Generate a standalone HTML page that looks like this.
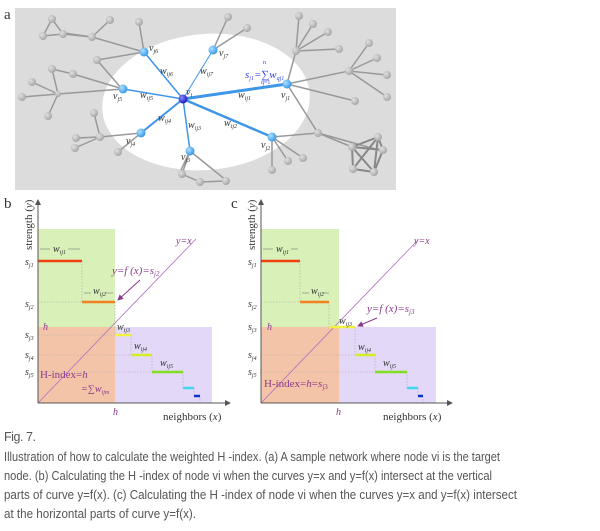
<!DOCTYPE html>
<html><head><meta charset="utf-8"><style>
html,body{margin:0;padding:0;background:#fff;width:600px;height:531px;overflow:hidden}
svg{display:block}
.cap{font-family:"Liberation Sans",sans-serif;font-size:12.5px;fill:#555}
.s{font-family:"Liberation Serif",serif;fill:#333}
.p{font-family:"Liberation Serif",serif;fill:#8a3a8a;font-style:italic}
</style></head><body>
<svg width="600" height="531" viewBox="0 0 600 531">
<defs>
<radialGradient id="gb" cx="35%" cy="35%" r="65%"><stop offset="0" stop-color="#aee0ff"/><stop offset="1" stop-color="#3a9be8"/></radialGradient>
<radialGradient id="gg" cx="35%" cy="35%" r="65%"><stop offset="0" stop-color="#e0e0e0"/><stop offset="1" stop-color="#a8a8a8"/></radialGradient>
<radialGradient id="gd" cx="35%" cy="35%" r="65%"><stop offset="0" stop-color="#8888ff"/><stop offset="1" stop-color="#2020c0"/></radialGradient>
<marker id="ar" markerWidth="6" markerHeight="6" refX="5" refY="3" orient="auto"><path d="M0,0L6,3L0,6z" fill="#555"/></marker>
<marker id="ap" markerWidth="6" markerHeight="6" refX="5" refY="3" orient="auto"><path d="M0,0L6,3L0,6z" fill="#8a3a8a"/></marker>
</defs>
<!-- panel a -->
<text x="4" y="19" class="s" font-size="15">a</text>
<rect x="15" y="8" width="381" height="182" fill="#dcdcdc"/>
<ellipse cx="206" cy="102" rx="104" ry="68" fill="#fff" transform="rotate(-5 206 102)"/>
<g stroke="#999" stroke-width="1.5" fill="none">
<path d="M144,52L92,37L64,33M92,37L110,20M92,37L63,34L43,36L52,19L63,34M144,52L139,22M144,52L97,60L122,89M123,89L58,94L22,97M58,94L52,69L73,74L123,89M58,94L48,116M58,94L32,82M141,133L100,137L76,138M100,137L75,148M100,137L94,113M141,133L118,152"/>
<path d="M190,151L182,174L200,182L226,181M190,151L227,181M190,151L181,170"/>
<path d="M213,50L228,17M213,50L247,28M287,84L296,51L299,16M296,51L313,24M296,51L328,32M296,51L339,49M287,84L349,71L369,43M349,71L377,58M349,71L387,75M349,71L387,97M287,84L355,101M287,84L318,133L352,147M318,133L375,149M272,137L272,170M272,137L288,161M272,137L303,158M272,137L318,133"/>
<path d="M352,147L378,137L383,150L374,172L353,169L352,147L383,150M378,137L374,172M352,147L374,172M378,137L353,169" stroke-width="2" stroke="#888"/>
</g>
<g fill="url(#gg)">
<circle cx="139" cy="22" r="4"/><circle cx="110" cy="20" r="4"/><circle cx="52" cy="19" r="4"/><circle cx="43" cy="36" r="4"/><circle cx="63" cy="34" r="4"/><circle cx="92" cy="37" r="4"/><circle cx="97" cy="60" r="4"/><circle cx="52" cy="69" r="4"/><circle cx="73" cy="74" r="4"/><circle cx="32" cy="82" r="4"/><circle cx="22" cy="97" r="4"/><circle cx="58" cy="94" r="3"/><circle cx="48" cy="116" r="4"/><circle cx="94" cy="113" r="4"/><circle cx="76" cy="138" r="4"/><circle cx="75" cy="148" r="4"/><circle cx="100" cy="137" r="4"/><circle cx="118" cy="152" r="4"/>
<circle cx="182" cy="174" r="4"/><circle cx="200" cy="182" r="4"/><circle cx="226" cy="181" r="4"/>
<circle cx="228" cy="17" r="4"/><circle cx="247" cy="28" r="4"/><circle cx="299" cy="16" r="4"/><circle cx="313" cy="24" r="4"/><circle cx="328" cy="32" r="4"/><circle cx="339" cy="49" r="4"/><circle cx="296" cy="51" r="4"/><circle cx="369" cy="43" r="4"/><circle cx="377" cy="58" r="4"/><circle cx="387" cy="75" r="4"/><circle cx="387" cy="97" r="4"/><circle cx="349" cy="71" r="4"/><circle cx="355" cy="101" r="4"/><circle cx="318" cy="133" r="4"/><circle cx="272" cy="170" r="4"/><circle cx="288" cy="161" r="4"/><circle cx="303" cy="158" r="4"/>
<circle cx="352" cy="147" r="4"/><circle cx="378" cy="137" r="4"/><circle cx="383" cy="150" r="4"/><circle cx="374" cy="172" r="4"/><circle cx="353" cy="169" r="4"/>
</g>
<g stroke="#3f95e8" fill="none">
<line x1="183" y1="99" x2="287" y2="84" stroke-width="3"/>
<line x1="183" y1="99" x2="272" y2="137" stroke-width="2.5"/>
<line x1="183" y1="99" x2="190" y2="151" stroke-width="1.5"/>
<line x1="183" y1="99" x2="141" y2="133" stroke-width="2"/>
<line x1="183" y1="99" x2="123" y2="89" stroke-width="1.5"/>
<line x1="183" y1="99" x2="144" y2="52" stroke-width="1.5"/>
<line x1="183" y1="99" x2="213" y2="50" stroke-width="1"/>
</g>
<g fill="url(#gb)">
<circle cx="287" cy="84" r="4.5"/><circle cx="272" cy="137" r="4.5"/><circle cx="190" cy="151" r="4.5"/><circle cx="141" cy="133" r="4.5"/><circle cx="123" cy="89" r="4.5"/><circle cx="144" cy="52" r="4.5"/><circle cx="213" cy="50" r="4.5"/>
</g>
<circle cx="183" cy="99" r="4.5" fill="url(#gd)"/>
<g class="s" font-size="10" font-style="italic">
<text x="186" y="95">v<tspan font-size="6" dy="2">i</tspan></text>
<text x="149" y="51">v<tspan font-size="6" dy="2">j6</tspan></text>
<text x="219" y="56">v<tspan font-size="6" dy="2">j7</tspan></text>
<text x="113" y="99">v<tspan font-size="6" dy="2">j5</tspan></text>
<text x="126" y="144">v<tspan font-size="6" dy="2">j4</tspan></text>
<text x="181" y="160">v<tspan font-size="6" dy="2">j3</tspan></text>
<text x="261" y="148">v<tspan font-size="6" dy="2">j2</tspan></text>
<text x="281" y="98">v<tspan font-size="6" dy="2">j1</tspan></text>
<text x="160" y="74">w<tspan font-size="6" dy="2">ij6</tspan></text>
<text x="200" y="74">w<tspan font-size="6" dy="2">ij7</tspan></text>
<text x="140" y="98">w<tspan font-size="6" dy="2">ij5</tspan></text>
<text x="158" y="121">w<tspan font-size="6" dy="2">ij4</tspan></text>
<text x="188" y="128">w<tspan font-size="6" dy="2">ij3</tspan></text>
<text x="224" y="126">w<tspan font-size="6" dy="2">ij2</tspan></text>
<text x="238" y="98">w<tspan font-size="6" dy="2">ij1</tspan></text>
</g>
<text x="245" y="78" font-family="Liberation Serif,serif" font-style="italic" font-size="11" fill="#3344ee">s<tspan font-size="6" dy="2">j1</tspan><tspan dy="-2">=∑w</tspan><tspan font-size="6" dy="2">qj1</tspan></text>
<text x="261" y="84" font-family="Liberation Serif,serif" font-size="6" fill="#3344ee">q=1</text>
<text x="263" y="64" font-family="Liberation Serif,serif" font-size="6" fill="#3344ee">n</text>

<!-- panel b -->
<text x="4" y="208" class="s" font-size="15">b</text>
<rect x="38" y="229" width="77" height="98" fill="#d9f0b8"/>
<rect x="38" y="327" width="77" height="76" fill="#f4c4a8"/>
<rect x="115" y="327" width="97" height="76" fill="#e4d8f8"/>
<g stroke="#aaa" stroke-width="0.6" stroke-dasharray="1.5,1.5">
<line x1="38" y1="302" x2="82" y2="302"/><line x1="38" y1="335" x2="115" y2="335"/><line x1="38" y1="355" x2="131" y2="355"/><line x1="38" y1="372" x2="152" y2="372"/>
<line x1="82" y1="261" x2="82" y2="302"/><line x1="115" y1="302" x2="115" y2="335"/><line x1="131" y1="335" x2="131" y2="355"/><line x1="152" y1="355" x2="152" y2="372"/><line x1="183" y1="372" x2="183" y2="388"/><line x1="194" y1="388" x2="194" y2="396"/><line x1="200" y1="396" x2="200" y2="403"/>
</g>
<line x1="38" y1="403" x2="196" y2="239" stroke="#b070c0" stroke-width="0.8"/>
<g stroke-width="2.5">
<line x1="38" y1="261" x2="82" y2="261" stroke="#f04010"/>
<line x1="82" y1="302" x2="115" y2="302" stroke="#f08020"/>
<line x1="115" y1="335" x2="131" y2="335" stroke="#f0f040"/>
<line x1="131" y1="355" x2="152" y2="355" stroke="#d0ee20"/>
<line x1="152" y1="372" x2="183" y2="372" stroke="#80e020"/>
<line x1="183" y1="388" x2="194" y2="388" stroke="#40d8f0"/>
<line x1="194" y1="396" x2="200" y2="396" stroke="#1030d0"/>
</g>
<line x1="38" y1="403" x2="38" y2="200" stroke="#555" marker-end="url(#ar)"/>
<line x1="38" y1="403" x2="230" y2="403" stroke="#555" marker-end="url(#ar)"/>
<text transform="translate(32,250) rotate(-90)" class="s" font-size="11">strength (<tspan font-style="italic">y</tspan>)</text>
<text x="163" y="420" class="s" font-size="11">neighbors (<tspan font-style="italic">x</tspan>)</text>
<g class="s" font-size="10" font-style="italic">
<text x="25" y="265">s<tspan font-size="6" dy="2">j1</tspan></text>
<text x="25" y="307">s<tspan font-size="6" dy="2">j2</tspan></text>
<text x="25" y="338">s<tspan font-size="6" dy="2">j3</tspan></text>
<text x="25" y="358">s<tspan font-size="6" dy="2">j4</tspan></text>
<text x="25" y="375">s<tspan font-size="6" dy="2">j5</tspan></text>
<text x="53" y="252">w<tspan font-size="6" dy="2">ij1</tspan></text>
<text x="93" y="294">w<tspan font-size="6" dy="2">ij2</tspan></text>
<text x="117" y="330">w<tspan font-size="6" dy="2">ij3</tspan></text>
<text x="134" y="349">w<tspan font-size="6" dy="2">ij4</tspan></text>
<text x="160" y="366">w<tspan font-size="6" dy="2">ij5</tspan></text>
</g>
<g stroke="#777" stroke-width="0.6" fill="none">
<line x1="40" y1="249" x2="50" y2="249"/><line x1="68" y1="249" x2="80" y2="249"/>
<line x1="84" y1="293" x2="91" y2="293"/><line x1="105" y1="293" x2="113" y2="293"/>
</g>
<text x="176" y="244" class="p" font-size="10">y=x</text>
<text x="112" y="274" class="p" font-size="11">y=f (x)=s<tspan font-size="7" dy="2">j2</tspan></text>
<line x1="140" y1="280" x2="118" y2="300" stroke="#8a3a8a" marker-end="url(#ap)"/>
<text x="43" y="330" class="p" font-size="10">h</text>
<text x="113" y="415" class="p" font-size="10">h</text>
<text x="40" y="378" font-family="Liberation Serif,serif" fill="#8a3a8a" font-size="11">H-index=<tspan font-style="italic">h</tspan></text>
<text x="81" y="392" class="p" font-size="10">=∑w<tspan font-size="6" dy="2">ijm</tspan></text>

<!-- panel c -->
<text x="231" y="208" class="s" font-size="15">c</text>
<rect x="261" y="229" width="78" height="98" fill="#d9f0b8"/>
<rect x="261" y="327" width="78" height="76" fill="#f4c4a8"/>
<rect x="339" y="327" width="97" height="76" fill="#e4d8f8"/>
<g stroke="#aaa" stroke-width="0.6" stroke-dasharray="1.5,1.5">
<line x1="261" y1="302" x2="300" y2="302"/><line x1="261" y1="355" x2="355" y2="355"/><line x1="261" y1="372" x2="375" y2="372"/>
<line x1="300" y1="261" x2="300" y2="302"/><line x1="329" y1="302" x2="329" y2="327"/><line x1="355" y1="327" x2="355" y2="355"/><line x1="375" y1="355" x2="375" y2="372"/><line x1="407" y1="372" x2="407" y2="388"/><line x1="418" y1="388" x2="418" y2="396"/><line x1="423" y1="396" x2="423" y2="403"/>
</g>
<line x1="261" y1="403" x2="418" y2="240" stroke="#b070c0" stroke-width="0.8"/>
<g stroke-width="2.5">
<line x1="261" y1="261" x2="300" y2="261" stroke="#f04010"/>
<line x1="300" y1="302" x2="329" y2="302" stroke="#f08020"/>
<line x1="329" y1="327" x2="355" y2="327" stroke="#f0f040"/>
<line x1="355" y1="355" x2="375" y2="355" stroke="#d0ee20"/>
<line x1="375" y1="372" x2="407" y2="372" stroke="#80e020"/>
<line x1="407" y1="388" x2="418" y2="388" stroke="#40d8f0"/>
<line x1="418" y1="396" x2="423" y2="396" stroke="#1030d0"/>
</g>
<line x1="261" y1="403" x2="261" y2="200" stroke="#555" marker-end="url(#ar)"/>
<line x1="261" y1="403" x2="452" y2="403" stroke="#555" marker-end="url(#ar)"/>
<text transform="translate(255,250) rotate(-90)" class="s" font-size="11">strength (<tspan font-style="italic">y</tspan>)</text>
<text x="383" y="420" class="s" font-size="11">neighbors (<tspan font-style="italic">x</tspan>)</text>
<g class="s" font-size="10" font-style="italic">
<text x="248" y="265">s<tspan font-size="6" dy="2">j1</tspan></text>
<text x="248" y="307">s<tspan font-size="6" dy="2">j2</tspan></text>
<text x="248" y="330">s<tspan font-size="6" dy="2">j3</tspan></text>
<text x="248" y="358">s<tspan font-size="6" dy="2">j4</tspan></text>
<text x="248" y="375">s<tspan font-size="6" dy="2">j5</tspan></text>
<text x="276" y="252">w<tspan font-size="6" dy="2">ij1</tspan></text>
<text x="311" y="294">w<tspan font-size="6" dy="2">ij2</tspan></text>
<text x="339" y="324">w<tspan font-size="6" dy="2">ij3</tspan></text>
<text x="358" y="350">w<tspan font-size="6" dy="2">ij4</tspan></text>
<text x="383" y="366">w<tspan font-size="6" dy="2">ij5</tspan></text>
</g>
<g stroke="#777" stroke-width="0.6" fill="none">
<line x1="263" y1="249" x2="273" y2="249"/><line x1="291" y1="249" x2="298" y2="249"/>
<line x1="302" y1="293" x2="309" y2="293"/><line x1="322" y1="293" x2="329" y2="293"/>
</g>
<text x="414" y="244" class="p" font-size="10">y=x</text>
<text x="367" y="312" class="p" font-size="11">y=f (x)=s<tspan font-size="7" dy="2">j3</tspan></text>
<line x1="377" y1="318" x2="358" y2="326" stroke="#8a3a8a" marker-end="url(#ap)"/>
<text x="267" y="330" class="p" font-size="10">h</text>
<text x="336" y="415" class="p" font-size="10">h</text>
<text x="264" y="387" font-family="Liberation Serif,serif" fill="#8a3a8a" font-size="11">H-index=<tspan font-style="italic">h</tspan>=<tspan font-style="italic">s</tspan><tspan font-size="7" dy="2">j3</tspan></text>

<!-- caption -->
<text x="4" y="441" class="cap" textLength="32">Fig. 7.</text>
<text x="4" y="461" class="cap" textLength="496" lengthAdjust="spacingAndGlyphs">Illustration of how to calculate the weighted H -index. (a) A sample network where node vi is the target</text>
<text x="4" y="480" class="cap" textLength="488" lengthAdjust="spacingAndGlyphs">node. (b) Calculating the H -index of node vi when the curves y=x and y=f(x) intersect at the vertical</text>
<text x="4" y="499" class="cap" textLength="513" lengthAdjust="spacingAndGlyphs">parts of curve y=f(x). (c) Calculating the H -index of node vi when the curves y=x and y=f(x) intersect</text>
<text x="4" y="518" class="cap" textLength="192" lengthAdjust="spacingAndGlyphs">at the horizontal parts of curve y=f(x).</text>
</svg>
</body></html>
